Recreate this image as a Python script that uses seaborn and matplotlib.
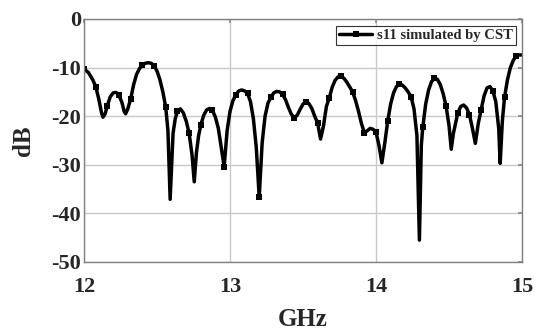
import numpy as np
import pandas as pd
import matplotlib
matplotlib.use("Agg")
import matplotlib.pyplot as plt
import seaborn as sns

# frequency (GHz) and simulated s11 (dB)
freq = [12.00, 12.03, 12.06, 12.08, 12.10, 12.12, 12.13, 12.145, 12.16, 12.18,
        12.20, 12.215, 12.23, 12.24, 12.26, 12.275, 12.285, 12.30, 12.32, 12.34,
        12.36, 12.38, 12.40, 12.42, 12.44, 12.46, 12.48, 12.50, 12.52, 12.54,
        12.56, 12.575, 12.59, 12.61, 12.625, 12.64, 12.66, 12.68, 12.70, 12.72,
        12.74, 12.755, 12.77, 12.785, 12.80, 12.82, 12.84, 12.86, 12.88, 12.90,
        12.92, 12.94, 12.96, 12.98, 13.00, 13.02, 13.04, 13.06, 13.08, 13.10,
        13.12, 13.14, 13.16, 13.18, 13.20, 13.22, 13.24, 13.26, 13.28, 13.30,
        13.32, 13.34, 13.36, 13.38, 13.40, 13.42, 13.44, 13.46, 13.48, 13.50,
        13.52, 13.54, 13.56, 13.58, 13.60, 13.62, 13.64, 13.66, 13.68, 13.70,
        13.72, 13.74, 13.76, 13.78, 13.80, 13.82, 13.84, 13.86, 13.88, 13.90,
        13.92, 13.94, 13.96, 13.98, 14.00, 14.02, 14.04, 14.06, 14.08, 14.10,
        14.12, 14.14, 14.16, 14.18, 14.20, 14.22, 14.24, 14.26, 14.28, 14.297,
        14.31, 14.32, 14.34, 14.36, 14.38, 14.40, 14.42, 14.44, 14.46, 14.48,
        14.50, 14.515, 14.53, 14.56, 14.58, 14.60, 14.62, 14.64, 14.66, 14.68,
        14.70, 14.72, 14.74, 14.76, 14.78, 14.80, 14.82, 14.84, 14.85, 14.865,
        14.88, 14.90, 14.92, 14.94, 14.96, 14.98, 15.00]
s11 = [-10.3, -11.0, -12.5, -13.9, -16.3, -19.3, -20.2, -19.5, -17.8, -16.0,
       -15.2, -15.1, -15.3, -15.7, -17.2, -19.0, -19.5, -18.5, -16.4, -13.5,
       -11.4, -10.2, -9.5, -9.1, -9.0, -9.1, -9.6, -10.7, -12.5, -15.0,
       -18.2, -23.0, -37.1, -23.5, -20.5, -19.0, -18.5, -19.3, -21.0, -23.5,
       -28.0, -33.5, -27.5, -24.0, -21.8, -19.8, -18.7, -18.4, -18.8, -20.2,
       -22.5, -26.5, -30.4, -23.0, -19.0, -16.8, -15.6, -14.8, -14.6, -14.8,
       -15.3, -17.0, -20.5, -26.5, -36.7, -25.5, -20.0, -17.3, -16.1, -15.2,
       -14.9, -15.0, -15.5, -16.6, -18.2, -19.6, -20.3, -19.8, -18.6, -17.5,
       -17.0, -17.4, -18.4, -20.0, -21.4, -24.7, -22.0, -18.0, -16.2, -14.0,
       -12.6, -11.9, -11.8, -12.2, -13.0, -14.0, -15.0, -16.8, -19.0, -21.5,
       -23.4, -23.0, -22.5, -22.7, -23.3, -26.0, -29.6, -25.5, -21.0, -17.5,
       -15.2, -13.9, -13.4, -13.6, -14.2, -15.0, -16.0, -18.5, -24.0, -45.5,
       -26.0, -22.3, -17.5, -14.6, -12.9, -12.2, -12.4, -13.5, -15.4, -18.0,
       -22.0, -26.8, -23.5, -19.3, -18.0, -17.7, -18.3, -19.7, -22.5, -25.6,
       -21.5, -18.7, -15.8, -14.2, -13.9, -14.8, -17.0, -22.5, -29.7, -21.0,
       -16.1, -12.5, -10.0, -8.5, -7.6, -7.4, -7.4]

x_ticks = [12, 13, 14, 15]
y_ticks = [0, -10, -20, -30, -40, -50]
series_label = "s11 simulated by CST"
x_label = "GHz"
y_label = "dB"

df = pd.DataFrame({"freq": freq, "s11": s11})

sns.set_theme(style="white")
plt.rcParams["font.family"] = ["Liberation Serif", "DejaVu Serif"]
plt.rcParams["font.weight"] = "bold"

fig = plt.figure(figsize=(5.36, 3.31), dpi=100)
ax = fig.add_axes([0.1567, 0.2085, 0.8173, 0.7341])

# markers every 0.08 GHz
f_arr = np.array(freq)
steps = (f_arr - 12.0) / 0.08
mark_idx = [int(i) for i in np.where(np.abs(steps - np.round(steps)) < 1e-6)[0]]

sns.lineplot(data=df, x="freq", y="s11", ax=ax, color="black", linewidth=2.5,
             sort=False, estimator=None, marker="s", markersize=4.2,
             markevery=mark_idx, markeredgewidth=0, label=series_label)

ax.set_xlim(12, 15)
ax.set_ylim(-50, 0)
ax.set_xticks(x_ticks)
ax.set_yticks(y_ticks)
ax.set_xticklabels([str(t) for t in x_ticks], fontsize=16, fontweight="bold")
ax.set_yticklabels([str(t) for t in y_ticks], fontsize=16, fontweight="bold")
ax.tick_params(axis="both", which="both", direction="in", length=3, color="#888888",
               pad=2, right=True, top=True, labelright=False, labeltop=False)
ax.tick_params(axis="x", pad=11)
ax.grid(True, color="#c8c8c8", linewidth=1.0)
for s in ax.spines.values():
    s.set_color("#808080")
    s.set_linewidth(1.0)

ax.set_xlabel(x_label, fontsize=18, fontweight="bold", labelpad=8)
ax.set_ylabel(y_label, fontsize=18, fontweight="bold", labelpad=12)

leg = ax.legend(loc="upper right", fontsize=10.5, frameon=True, fancybox=False,
                handlelength=2.3, borderpad=0.2, handletextpad=0.3,
                borderaxespad=0.45)
leg.get_frame().set_edgecolor("black")
leg.get_frame().set_linewidth(0.8)
for t in leg.get_texts():
    t.set_fontweight("bold")

fig.savefig("out.png", dpi=100)
